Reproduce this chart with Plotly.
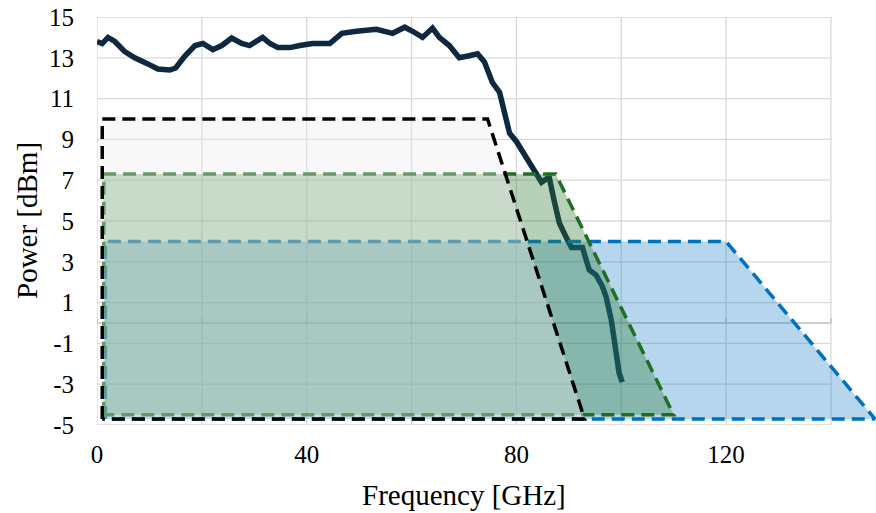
import plotly.graph_objects as go

# measured curve
freq = [0, 1, 2.1, 3.4, 5.3, 7.2, 9.7, 11.6, 13.9, 15, 16.8, 18.7, 20.2, 22.1, 23.8, 25.7,
        27.6, 29.1, 31.6, 33, 34.5, 36.8, 38.7, 41.1, 44.4, 46.7, 49.5, 53.3, 56.4, 58.7,
        60.2, 62.1, 64, 65.3, 67.2, 69.1, 71, 72.6, 73.9, 75.4, 76.8, 77.7, 78.7, 80,
        81.9, 83.8, 84.8, 85.9, 86.3, 87.2, 88.2, 89.5, 90.5, 91.4, 92.6, 93.9, 95.2,
        96.4, 97.1, 98.1, 99, 99.6, 100.2]
power = [13.8, 13.7, 14.0, 13.8, 13.3, 13.0, 12.7, 12.45, 12.4, 12.5, 13.1, 13.6, 13.7,
         13.4, 13.6, 13.97, 13.7, 13.6, 14.0, 13.7, 13.5, 13.5, 13.6, 13.7, 13.7, 14.2,
         14.3, 14.4, 14.2, 14.5, 14.3, 14.0, 14.46, 14.0, 13.6, 13.0, 13.1, 13.2, 12.8,
         11.8, 11.3, 10.3, 9.3, 8.9, 8.1, 7.35, 6.9, 7.1, 7.1, 6.0, 4.9, 4.2, 3.7, 3.7,
         3.7, 2.6, 2.35, 1.8, 1.3, 0.15, -1.5, -2.45, -2.9]

# masks
black_x = [1, 1, 74.5, 93, 1]
black_y = [-4.7, 10, 10, -4.7, -4.7]
green_x = [1.3, 1.3, 87.5, 110, 1.3]
green_y = [-4.5, 7.3, 7.3, -4.5, -4.5]
blue_x = [1.6, 1.6, 120, 148.4, 1.6]
blue_y = [-4.7, 4, 4, -4.7, -4.7]

x_ticks = [0, 20, 40, 60, 80, 100, 120, 140]
x_labels = ["0", "", "40", "", "80", "", "120", ""]
y_ticks = [-5, -3, -1, 1, 3, 5, 7, 9, 11, 13, 15]
y_labels = ["-5", "-3", "-1", "1", "3", "5", "7", "9", "11", "13", "15"]
x_title = "Frequency [GHz]"
y_title = "Power [dBm]"

FONT = "Liberation Serif, Times New Roman, serif"
GRID = "#d9d9d9"
DASH = "13px,7px"

fig = go.Figure()
fig.add_trace(go.Scatter(x=freq, y=power, mode="lines",
                         line=dict(color="#0e2841", width=5.5), hoverinfo="skip"))
fig.add_trace(go.Scatter(x=blue_x, y=blue_y, mode="lines", fill="toself",
                         fillcolor="rgba(0,112,192,0.29)",
                         line=dict(color="#0070c0", width=3.5, dash=DASH)))
fig.add_trace(go.Scatter(x=green_x, y=green_y, mode="lines", fill="toself",
                         fillcolor="rgba(48,124,55,0.35)",
                         line=dict(color="#1f6e22", width=3.5, dash=DASH)))
fig.add_trace(go.Scatter(x=black_x, y=black_y, mode="lines", fill="toself",
                         fillcolor="rgba(235,235,235,0.35)",
                         line=dict(color="#000000", width=3.5, dash=DASH)))

shapes = []
for yv in y_ticks:
    shapes.append(dict(type="line", xref="x", yref="y", x0=0, x1=140, y0=yv, y1=yv,
                       line=dict(color=GRID, width=1.3), layer="below"))
for xv in x_ticks:
    shapes.append(dict(type="line", xref="x", yref="y", x0=xv, x1=xv, y0=-5, y1=15,
                       line=dict(color=GRID, width=1.3), layer="below"))
# axis line at y=0 with tick marks
shapes.append(dict(type="line", xref="x", yref="y", x0=0, x1=140, y0=0, y1=0,
                   line=dict(color="#bfbfbf", width=1.5), layer="below"))
for xv in x_ticks:
    shapes.append(dict(type="line", xref="x", yref="y", x0=xv, x1=xv, y0=0, y1=0.25,
                       line=dict(color="#bfbfbf", width=1.5), layer="below"))

annotations = [
    dict(text=x_title, xref="x", yref="paper", x=70, y=0, yanchor="middle",
         yshift=-70, showarrow=False, font=dict(size=29, family=FONT, color="#000")),
    dict(text=y_title, xref="paper", yref="y", x=0, y=5, xanchor="center",
         xshift=-70, textangle=-90, showarrow=False,
         font=dict(size=29, family=FONT, color="#000")),
]

fig.update_layout(
    width=876, height=513,
    margin=dict(l=97, r=0, t=17, b=88),
    paper_bgcolor="white", plot_bgcolor="white",
    showlegend=False,
    shapes=shapes,
    annotations=annotations,
    font=dict(family=FONT, color="#000000", size=25),
    xaxis=dict(range=[0, 148.6], tickmode="array", tickvals=x_ticks, ticktext=x_labels,
               showgrid=False, zeroline=False, showline=False,
               ticks="", ticklabelstandoff=12, tickfont=dict(size=25, family=FONT)),
    yaxis=dict(range=[-5, 15], tickmode="array", tickvals=y_ticks, ticktext=y_labels,
               showgrid=False, zeroline=False, showline=False,
               ticks="", ticklabelstandoff=22, tickfont=dict(size=25, family=FONT)),
)

fig.write_html("out.html")
